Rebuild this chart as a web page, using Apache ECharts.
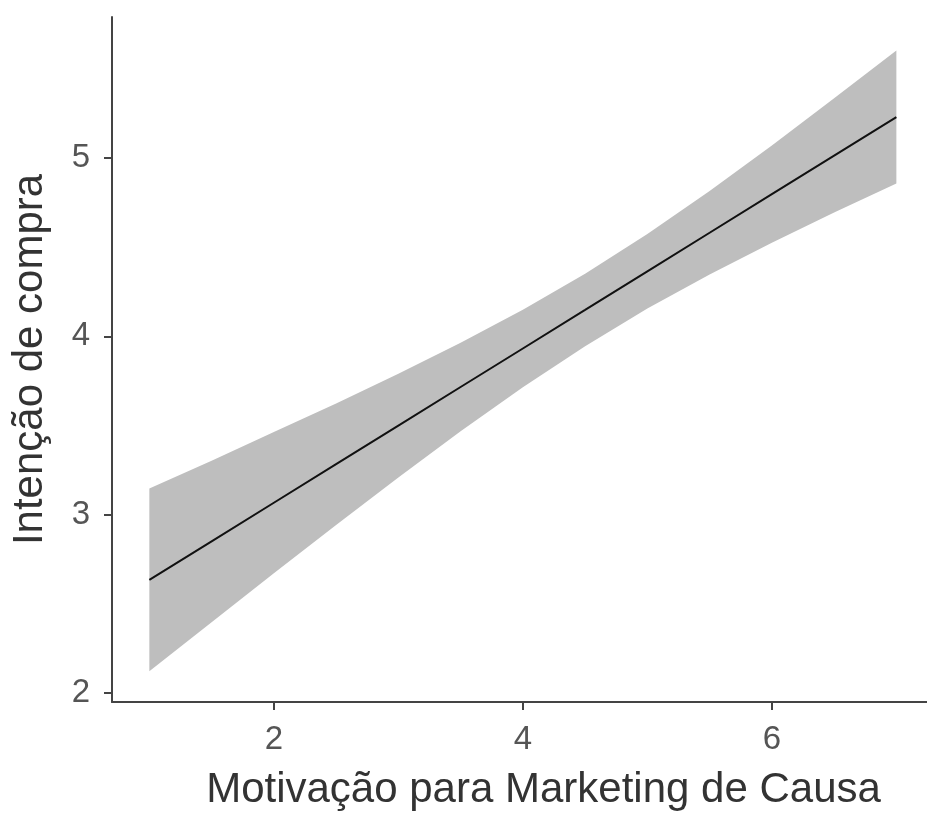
<!DOCTYPE html>
<html>
<head>
<meta charset="utf-8">
<script src="https://cdn.jsdelivr.net/npm/echarts@6/dist/echarts.min.js"></script>
<style>
html,body{margin:0;padding:0;background:#fff;}
#chart{width:927px;height:821px;}
</style>
</head>
<body>
<div id="chart"></div>
<script>
// Data
const xValues = [1, 1.5, 2, 2.5, 3, 3.5, 4, 4.5, 5, 5.5, 6, 6.5, 7];
const fitValues = [2.634, 2.850, 3.067, 3.283, 3.499, 3.716, 3.932, 4.148, 4.365, 4.581, 4.798, 5.014, 5.230];
const lowerValues = [2.122, 2.397, 2.671, 2.942, 3.208, 3.468, 3.715, 3.945, 4.156, 4.347, 4.525, 4.694, 4.857];
const upperValues = [3.147, 3.303, 3.463, 3.624, 3.790, 3.964, 4.149, 4.351, 4.574, 4.815, 5.071, 5.335, 5.603];
const xTicks = [2, 4, 6];
const yTicks = [2, 3, 4, 5];
const xTitle = 'Motivação para Marketing de Causa';
const yTitle = 'Intenção de compra';

const FONT = '"Liberation Sans", Arial, sans-serif';
const AXIS_COLOR = '#444444';
const LABEL_COLOR = '#555555';
const TITLE_COLOR = '#333333';

const chart = echarts.init(document.getElementById('chart'), null, {renderer: 'canvas'});

const bandData = xValues.map((x, i) => [x, lowerValues[i], upperValues[i]]);
const lineData = xValues.map((x, i) => [x, fitValues[i]]);

const option = {
  animation: false,
  backgroundColor: '#ffffff',
  grid: {left: 112, top: 17, right: 0, bottom: 119, containLabel: false, outerBoundsMode: 'none'},
  xAxis: {
    type: 'value',
    min: 0.7,
    max: 7.246,
    splitLine: {show: false},
    axisLine: {show: true, onZero: false, lineStyle: {color: AXIS_COLOR, width: 2}},
    axisTick: {show: true, length: 8, customValues: xTicks, lineStyle: {color: AXIS_COLOR, width: 2}},
    axisLabel: {show: true, customValues: xTicks, fontSize: 33, color: LABEL_COLOR, fontFamily: FONT, margin: 21},
    name: xTitle,
    nameLocation: 'middle',
    nameGap: 67,
    nameTextStyle: {fontSize: 42, color: TITLE_COLOR, fontFamily: FONT, padding: [0, 0, 0, 48]}
  },
  yAxis: {
    type: 'value',
    min: 1.9495,
    max: 5.791,
    splitLine: {show: false},
    axisLine: {show: true, onZero: false, lineStyle: {color: AXIS_COLOR, width: 2}},
    axisTick: {show: true, length: 8, customValues: yTicks, lineStyle: {color: AXIS_COLOR, width: 2}},
    axisLabel: {show: true, customValues: yTicks, fontSize: 33, color: LABEL_COLOR, fontFamily: FONT, margin: 22},
    name: yTitle,
    nameLocation: 'middle',
    nameRotate: 90,
    nameGap: 61,
    nameTextStyle: {fontSize: 42, color: TITLE_COLOR, fontFamily: FONT}
  },
  series: [
    {
      type: 'custom',
      name: 'band',
      data: bandData,
      encode: {x: 0, y: [1, 2]},
      clip: true,
      z: 1,
      renderItem: function (params, api) {
        if (params.dataIndex !== 0) return null;
        const pts = [];
        for (let i = 0; i < bandData.length; i++) {
          pts.push(api.coord([bandData[i][0], bandData[i][2]]));
        }
        for (let i = bandData.length - 1; i >= 0; i--) {
          pts.push(api.coord([bandData[i][0], bandData[i][1]]));
        }
        return {type: 'polygon', shape: {points: pts}, style: {fill: '#bebebe', stroke: null}};
      }
    },
    {
      type: 'line',
      name: 'fit',
      data: lineData,
      showSymbol: false,
      symbol: 'none',
      z: 3,
      lineStyle: {color: '#111111', width: 2}
    }
  ]
};
chart.setOption(option);
</script>
</body>
</html>
